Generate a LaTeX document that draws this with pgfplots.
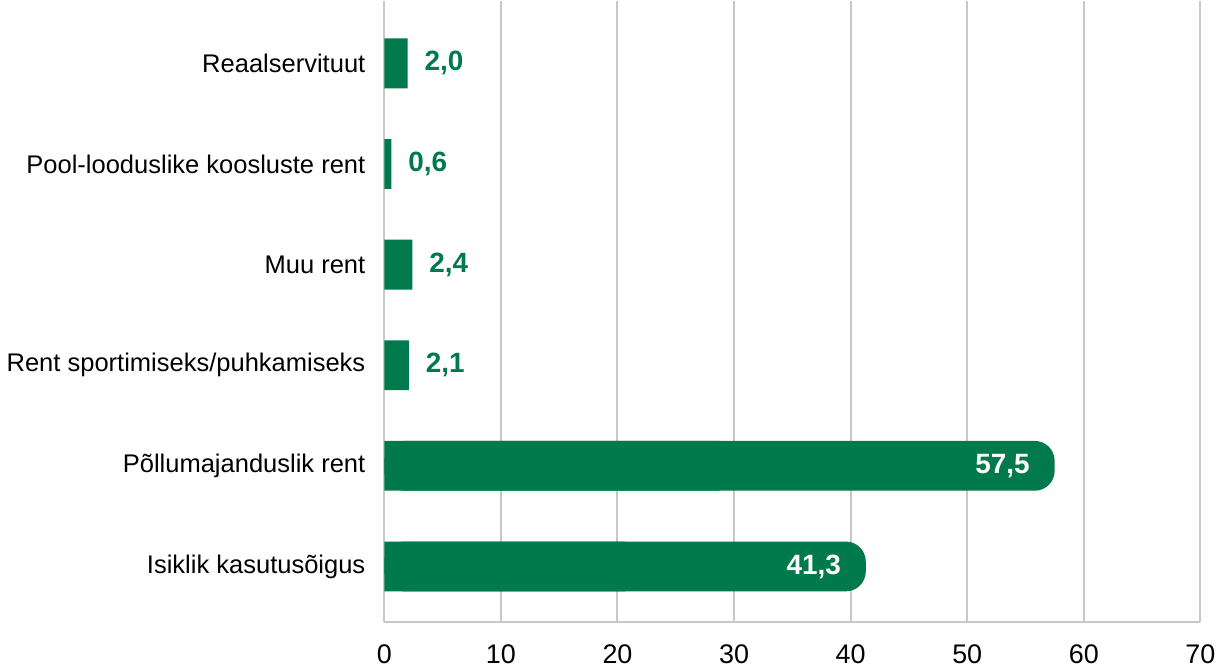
\documentclass[border=0pt]{standalone}
\usepackage{pgfplots}
\pgfplotsset{compat=1.18}
\usepackage{fontspec}
\setmainfont{Liberation Sans}
\definecolor{barg}{HTML}{007A4D}
\definecolor{gridg}{HTML}{C8C8C8}
\begin{document}
\begin{tikzpicture}
\begin{axis}[
  width=409.5pt, height=311.5pt, scale only axis,
  xmin=0, xmax=70, ymin=-0.55, ymax=5.62,
  xtick={0,10,...,70},
  ytick={0,1,2,3,4,5},
  yticklabels={Isiklik kasutusõigus, Põllumajanduslik rent, Rent sportimiseks/puhkamiseks, Muu rent, Pool-looduslike koosluste rent, Reaalservituut},
  axis x line*=bottom, axis y line*=left,
  axis line style={gridg, line width=1pt, -},
  xmajorgrids, major grid style={gridg, line width=1pt},
  major tick length=0pt,
  tick label style={text=black},
  xticklabel style={yshift=-8pt, font=\fontsize{13.5}{16}\selectfont},
  yticklabel style={xshift=-6pt, font=\fontsize{12.8}{16}\selectfont},
  /pgf/number format/assume math mode=true,
  xbar, bar width=25pt, bar shift=0pt,
  clip=false,
]
% small bars
\addplot[fill=barg, draw=none,
  nodes near coords, nodes near coords align=horizontal,
  point meta=explicit symbolic,
  every node near coord/.append style={anchor=west, xshift=5pt, text=barg, font=\fontsize{14}{16}\selectfont\bfseries}]
  coordinates {(2.0,5) [2,0] (0.6,4) [0,6] (2.4,3) [2,4] (2.1,2) [2,1]};
% large bars, rounded end
\addplot[fill=barg, draw=none, rounded corners=10pt]
  coordinates {(57.5,1) (41.3,0)};
\addplot[fill=barg, draw=none, x filter/.expression={x/2}]
  coordinates {(57.5,1) (41.3,0)};
\addplot[draw=none, mark=none, bar width=0pt,
  nodes near coords, nodes near coords align=horizontal,
  point meta=explicit symbolic,
  every node near coord/.append style={anchor=east, xshift=-9pt, text=white, font=\fontsize{14}{16}\selectfont\bfseries}]
  coordinates {(57.5,1) [57,5] (41.3,0) [41,3]};
\end{axis}
\end{tikzpicture}
\end{document}
